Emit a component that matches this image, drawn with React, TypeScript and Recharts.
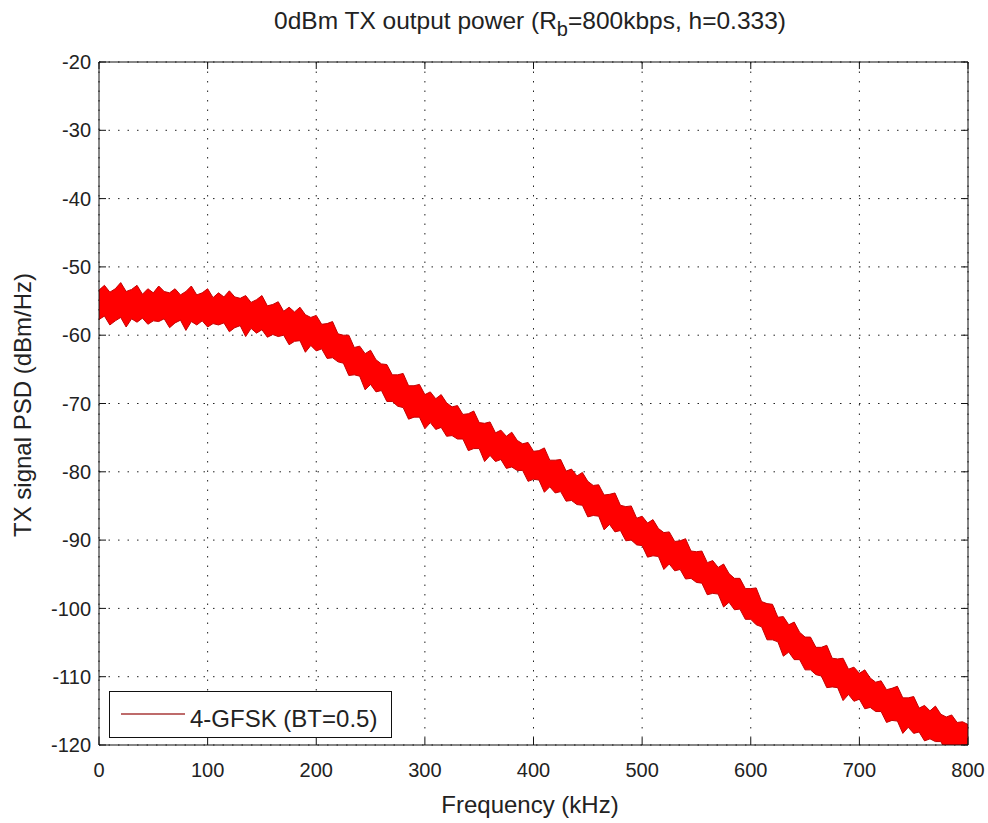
import { Area, CartesianGrid, ComposedChart, Legend, XAxis, YAxis } from "recharts";

const FONT = "'Liberation Sans', Arial, sans-serif";

const freqKHz = [
  0, 5, 10, 15, 20, 25, 30, 35, 40, 45, 50, 55, 60, 65, 70, 75, 80, 85, 90, 95,
  100, 105, 110, 115, 120, 125, 130, 135, 140, 145, 150, 155, 160, 165, 170, 175, 180, 185, 190, 195,
  200, 205, 210, 215, 220, 225, 230, 235, 240, 245, 250, 255, 260, 265, 270, 275, 280, 285, 290, 295,
  300, 305, 310, 315, 320, 325, 330, 335, 340, 345, 350, 355, 360, 365, 370, 375, 380, 385, 390, 395,
  400, 405, 410, 415, 420, 425, 430, 435, 440, 445, 450, 455, 460, 465, 470, 475, 480, 485, 490, 495,
  500, 505, 510, 515, 520, 525, 530, 535, 540, 545, 550, 555, 560, 565, 570, 575, 580, 585, 590, 595,
  600, 605, 610, 615, 620, 625, 630, 635, 640, 645, 650, 655, 660, 665, 670, 675, 680, 685, 690, 695,
  700, 705, 710, 715, 720, 725, 730, 735, 740, 745, 750, 755, 760, 765, 770, 775, 780, 785, 790, 795,
  800,
];

// top edge of the noisy trace (dBm/Hz)
const psdUpper = [
  -53.4, -52.7, -53.7, -53.2, -52.3, -53.6, -53.3, -52.7, -54.0, -53.2,
  -53.8, -52.8, -53.6, -53.8, -53.2, -54.1, -53.6, -52.8, -54.1, -53.8,
  -53.2, -54.5, -53.8, -54.4, -53.5, -54.4, -54.6, -54.2, -55.2, -54.8,
  -54.2, -55.7, -55.5, -55.1, -56.5, -55.9, -56.6, -55.9, -57.0, -57.4,
  -57.1, -58.4, -58.3, -58.0, -59.8, -60.0, -60.0, -61.8, -61.6, -62.7,
  -62.2, -63.6, -64.2, -64.3, -65.8, -65.8, -65.6, -67.4, -67.4, -67.2,
  -68.7, -68.3, -69.3, -68.7, -69.9, -70.5, -70.3, -71.6, -71.5, -71.1,
  -72.8, -72.9, -72.7, -74.3, -73.9, -74.8, -74.2, -75.4, -75.9, -75.7,
  -77.0, -76.9, -76.5, -78.3, -78.3, -78.2, -79.9, -79.6, -80.6, -80.1,
  -81.4, -82.0, -81.9, -83.4, -83.3, -83.1, -84.9, -85.1, -85.0, -86.8,
  -86.5, -87.5, -87.0, -88.3, -88.9, -88.8, -90.2, -90.1, -89.8, -91.6,
  -91.7, -91.6, -93.3, -93.0, -94.0, -93.5, -94.9, -95.6, -95.6, -97.1,
  -97.1, -97.0, -99.0, -99.3, -99.4, -101.3, -101.2, -102.4, -102.0, -103.5,
  -104.2, -104.2, -105.7, -105.7, -105.4, -107.3, -107.4, -107.3, -108.9, -108.6,
  -109.5, -109.0, -110.2, -110.8, -110.6, -111.9, -111.7, -111.4, -113.1, -113.1,
  -112.9, -114.6, -114.2, -115.0, -114.3, -115.5, -115.9, -115.6, -116.7, -116.6,
  -117.0,
];

// bottom edge of the noisy trace (dBm/Hz)
const psdLower = [
  -57.7, -57.2, -58.5, -57.9, -57.4, -58.8, -57.6, -58.1, -57.5, -58.4,
  -57.9, -58.0, -57.6, -58.9, -58.2, -57.8, -59.3, -58.0, -58.5, -57.9,
  -58.8, -58.3, -58.5, -58.2, -59.5, -58.9, -58.6, -60.2, -59.0, -59.7,
  -59.2, -60.3, -59.9, -60.2, -60.0, -61.4, -60.9, -60.8, -62.5, -61.5,
  -62.3, -62.0, -63.4, -63.3, -63.9, -64.1, -65.9, -65.8, -66.0, -68.0,
  -67.2, -68.3, -68.1, -69.7, -69.7, -70.4, -70.6, -72.3, -72.0, -72.0,
  -73.7, -72.8, -73.8, -73.5, -74.8, -74.7, -75.2, -75.2, -76.9, -76.6,
  -76.6, -78.5, -77.6, -78.5, -78.2, -79.5, -79.3, -79.8, -79.8, -81.4,
  -81.1, -81.2, -83.0, -82.2, -83.1, -82.9, -84.3, -84.2, -84.8, -84.9,
  -86.6, -86.4, -86.5, -88.5, -87.7, -88.8, -88.6, -90.1, -90.0, -90.7,
  -90.8, -92.5, -92.3, -92.4, -94.3, -93.5, -94.5, -94.3, -95.7, -95.6,
  -96.2, -96.3, -98.0, -97.8, -97.9, -99.8, -99.1, -100.2, -100.1, -101.6,
  -101.6, -102.4, -102.7, -104.6, -104.6, -104.9, -107.0, -106.4, -107.5, -107.5,
  -109.0, -109.0, -109.7, -109.9, -111.6, -111.5, -111.6, -113.5, -112.6, -113.6,
  -113.3, -114.7, -114.5, -115.1, -115.1, -116.7, -116.4, -116.5, -118.3, -117.4,
  -118.3, -118.1, -119.4, -119.1, -119.5, -119.5, -121.0, -120.6, -120.4, -122.1,
  -121.0,
];

const xTicks = [0, 100, 200, 300, 400, 500, 600, 700, 800];
const yTicks = [-120, -110, -100, -90, -80, -70, -60, -50, -40, -30, -20];

const rows = freqKHz.map((f, i) => ({ f, band: [psdLower[i], psdUpper[i]] }));

const tickStyle = { fontSize: 20, fill: "#222", fontFamily: FONT };
const noLabel = () => <g />;

function LegendBox() {
  return (
    <div
      style={{
        width: 283,
        height: 47,
        boxSizing: "border-box",
        border: "1px solid #111",
        background: "#fff",
        display: "flex",
        alignItems: "center",
        fontFamily: FONT,
        fontSize: 24,
        color: "#222",
      }}
    >
      <svg width={80} height={45} style={{ flex: "none" }}>
        <line x1={11} x2={75} y1={22} y2={22} stroke="#a83a3a" strokeWidth={1.5} />
      </svg>
      <span style={{ paddingTop: 8 }}>4-GFSK (BT=0.5)</span>
    </div>
  );
}

export default function App() {
  return (
    <div style={{ position: "absolute", left: 0, top: 0, width: 988, height: 823, background: "#fff" }}>
      <ComposedChart
        width={988}
        height={823}
        data={rows}
        margin={{ top: 61, right: 19, bottom: 38, left: 39 }}
        style={{ fontFamily: FONT }}
      >
        <CartesianGrid xAxisId="bottom" yAxisId="left" stroke="#222" strokeDasharray="1.5 8" />
        <XAxis
          xAxisId="bottom"
          dataKey="f"
          type="number"
          domain={[0, 800]}
          ticks={xTicks}
          height={40}
          tickSize={-7}
          tickMargin={25}
          tick={tickStyle}
          axisLine={{ stroke: "#111" }}
          tickLine={{ stroke: "#111" }}
          allowDataOverflow
          label={() => (
            <text x={530} y={813} textAnchor="middle" fontSize={24} fill="#222" fontFamily={FONT}>
              Frequency (kHz)
            </text>
          )}
        />
        <XAxis
          xAxisId="top"
          orientation="top"
          dataKey="f"
          type="number"
          domain={[0, 800]}
          ticks={xTicks}
          height={1}
          tickSize={-7}
          tick={noLabel}
          axisLine={{ stroke: "#111" }}
          tickLine={{ stroke: "#111" }}
          allowDataOverflow
          label={() => (
            <text x={530} y={29} textAnchor="middle" fontSize={24.5} fill="#222" fontFamily={FONT}>
              0dBm TX output power (R
              <tspan dy={7} fontSize={20}>b</tspan>
              <tspan dy={-7}>=800kbps, h=0.333)</tspan>
            </text>
          )}
        />
        <YAxis
          yAxisId="left"
          type="number"
          domain={[-120, -20]}
          ticks={yTicks}
          width={60}
          tickSize={-7}
          tickMargin={15}
          tick={tickStyle}
          axisLine={{ stroke: "#111" }}
          tickLine={{ stroke: "#111" }}
          allowDataOverflow
          label={() => (
            <text
              x={31}
              y={405}
              transform="rotate(-90 31 405)"
              textAnchor="middle"
              fontSize={24}
              fill="#222"
              fontFamily={FONT}
            >
              TX signal PSD (dBm/Hz)
            </text>
          )}
        />
        <YAxis
          yAxisId="right"
          orientation="right"
          dataKey="band"
          type="number"
          domain={[-120, -20]}
          ticks={yTicks}
          interval={0}
          width={1}
          tickSize={-7}
          tick={noLabel}
          axisLine={{ stroke: "#111" }}
          tickLine={{ stroke: "#111" }}
          allowDataOverflow
        />
        <Area
          xAxisId="bottom"
          yAxisId="left"
          type="linear"
          dataKey="band"
          name="4-GFSK (BT=0.5)"
          fill="#ff0000"
          fillOpacity={1}
          stroke="#c40000"
          strokeWidth={1}
          dot={false}
          activeDot={false}
          isAnimationActive={false}
        />
        <Legend
          layout="vertical"
          align="center"
          verticalAlign="middle"
          content={() => <LegendBox />}
          wrapperStyle={{ left: 109, top: 691, width: 283, height: 47 }}
        />
      </ComposedChart>
    </div>
  );
}
